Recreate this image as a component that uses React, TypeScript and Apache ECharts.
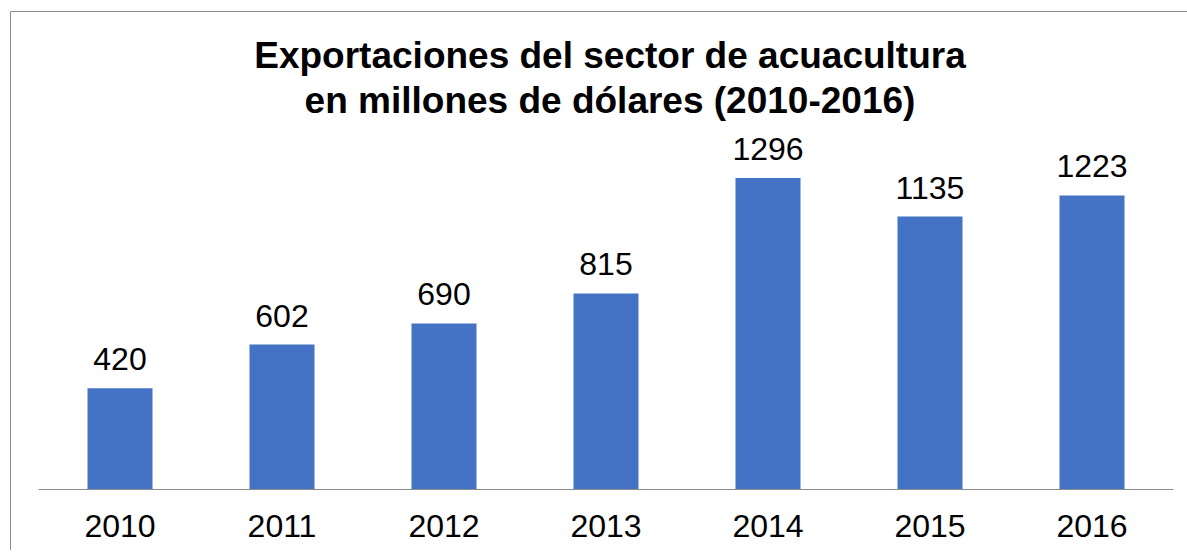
import React, { useEffect, useRef } from "react";
import * as echarts from "echarts";

const categories = ["2010", "2011", "2012", "2013", "2014", "2015", "2016"];
const values = [420, 602, 690, 815, 1296, 1135, 1223];
const titleLines = ["Exportaciones del sector de acuacultura", "en millones de dólares (2010-2016)"];

const FONT = "'Liberation Sans', Arial, sans-serif";

export default function App() {
  const ref = useRef<HTMLDivElement>(null);
  useEffect(() => {
    if (!ref.current) return;
    const chart = echarts.init(ref.current, null, { renderer: "svg" });
    chart.setOption({
      animation: false,
      backgroundColor: "#ffffff",
      title: {
        text: titleLines.join("\n"),
        left: 605,
        top: 28,
        textAlign: "center",
        textStyle: {
          fontFamily: FONT,
          fontSize: 37,
          fontWeight: "bold",
          color: "#000000",
          lineHeight: 45,
        },
      },
      graphic: [
        {
          type: "line",
          shape: { x1: 10.5, y1: 11.5, x2: 10.5, y2: 550 },
          style: { stroke: "#8c8c8c", lineWidth: 1 },
        },
        {
          type: "line",
          shape: { x1: 10.5, y1: 11.5, x2: 1187, y2: 11.5 },
          style: { stroke: "#8c8c8c", lineWidth: 1 },
        },
      ],
      grid: { left: 39, right: 14, top: 153, bottom: 65, containLabel: false },
      xAxis: {
        type: "category",
        data: categories,
        axisTick: { show: false },
        axisLine: { show: true, lineStyle: { color: "#8c8c8c", width: 1 } },
        axisLabel: {
          color: "#000000",
          fontFamily: FONT,
          fontSize: 32,
          margin: 21,
        },
      },
      yAxis: {
        type: "value",
        min: 0,
        max: 1400,
        show: false,
        splitLine: { show: false },
      },
      series: [
        {
          type: "bar",
          data: values,
          barWidth: 65,
          itemStyle: { color: "#4472C4" },
          label: {
            show: true,
            position: "top",
            distance: 13,
            color: "#000000",
            fontFamily: FONT,
            fontSize: 32,
          },
        },
      ],
    });
    return () => chart.dispose();
  }, []);
  return (
    <div
      ref={ref}
      style={{ position: "absolute", left: 0, top: 0, width: 1187, height: 554 }}
    />
  );
}
